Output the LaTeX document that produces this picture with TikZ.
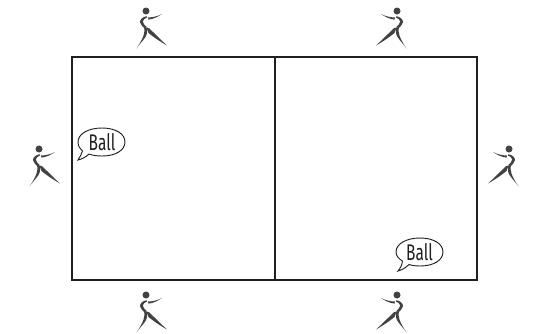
\documentclass[tikz,border=0pt]{standalone}
\usepackage{fontspec}
\setmainfont{Fira Sans}
\definecolor{ink}{HTML}{231F20}
\tikzset{
  court/.style={draw=ink,line width=1.5pt},
  bubble/.style={draw=ink,line width=0.7pt,fill=white},
  balltext/.style={inner sep=0pt,text=ink,font=\fontsize{17pt}{17pt}\selectfont},
  limb/.style={fill=ink!85},
  player/.pic={
    \fill[limb] (0,0) circle (3.5);
    % front arm
    \fill[limb] (2,6.4) .. controls (7,6.6) and (12,5) .. (16,3) .. controls (11,6.2) and (7,8.2) .. (2.5,8.6) -- cycle;
    % torso crescent
    \fill[limb] (0.5,5.2) .. controls (-3.5,6) and (-6,8.5) .. (-6,11) .. controls (-6,13.5) and (-3.5,15) .. (-1.8,17) -- (1,16.5) .. controls (-0.5,14.5) and (-3.4,13) .. (-3.2,10.5) .. controls (-3,8.5) and (-1,7.2) .. (1,6.6) -- cycle;
    % rear leg
    \fill[limb] (-1.8,17) .. controls (-1,21) and (-1.8,26) .. (-9.5,37.5) .. controls (-5,31) and (0,27) .. (0.8,23) .. controls (1.1,21) and (1.2,19) .. (1,17) -- cycle;
    % front leg
    \fill[limb] (0.5,16.5) .. controls (2.5,16) and (4,18) .. (6,20) .. controls (10,24) and (15,29) .. (21,34.5) .. controls (14,30.5) and (8,26.5) .. (2.5,22) -- cycle;
  }
}
\begin{document}
\begin{tikzpicture}[x=0.75pt,y=-0.75pt]
\useasboundingbox (0,0) rectangle (536,333);
\coordinate (nwc) at (72,57);
\coordinate (sec) at (477,280);
\coordinate (midt) at (274.5,57);
\coordinate (midb) at (274.5,280);
\draw[court] (nwc) rectangle (sec);
\draw[court] (midt) -- (midb);
\pic at (146,11) {player};
\pic at (146,295) {player};
\pic at (39,149) {player};
\pic[xscale=-1] at (397,11) {player};
\pic[xscale=-1] at (397,295) {player};
\pic[xscale=-1] at (509,149) {player};
\draw[bubble] (82.5,151) .. controls (81.5,154) and (80,157) .. (78,160) .. controls (82,159) and (86,157) .. (89,154) .. controls (93,155.5) and (97,156) .. (102,156) .. controls (116,156) and (125,150) .. (125,142) .. controls (125,134) and (116,128) .. (102,128) .. controls (88,128) and (78,134) .. (78,142) .. controls (78,146) and (80,149) .. (82.5,151) -- cycle;
\node[balltext] (ball1) at (102,142) {\scalebox{0.68}[1]{Ball}};
\draw[bubble] (402.5,261) .. controls (402,265) and (400.5,268) .. (398,271) .. controls (402,270) and (406,267.5) .. (409,264.5) .. controls (412,265.5) and (416,266) .. (420,266) .. controls (434,266) and (443,260) .. (443,252) .. controls (443,244) and (434,238) .. (420,238) .. controls (406,238) and (396,244) .. (396,252) .. controls (396,256) and (399,259) .. (402.5,261) -- cycle;
\node[balltext] (ball2) at (419.5,252) {\scalebox{0.68}[1]{Ball}};
\end{tikzpicture}
\end{document}
